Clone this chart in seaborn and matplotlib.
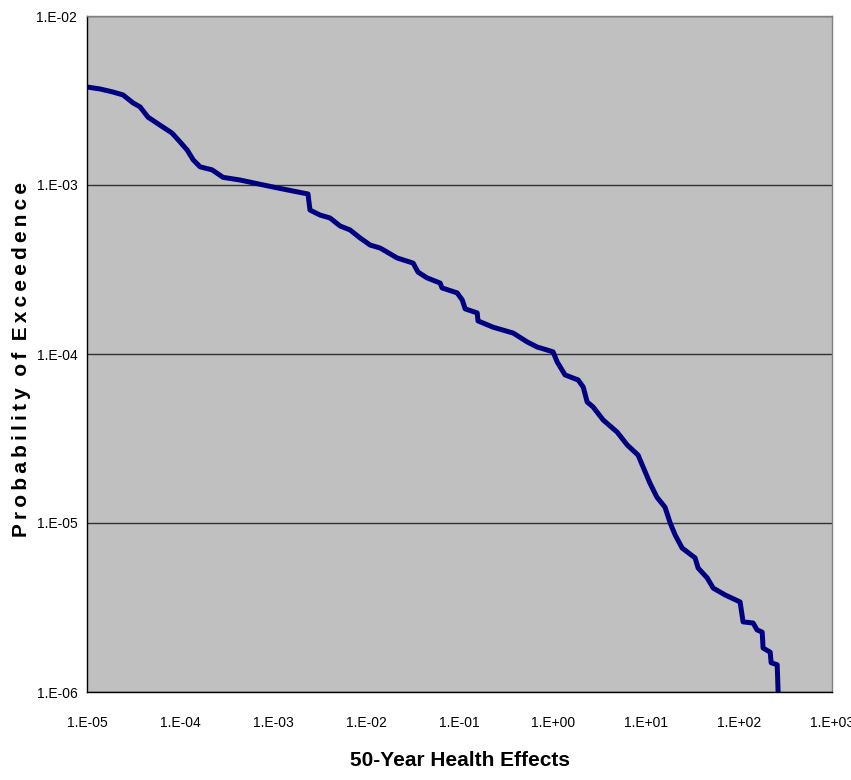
import matplotlib
matplotlib.use("Agg")
import matplotlib.pyplot as plt
import seaborn as sns
import pandas as pd
from matplotlib.ticker import FixedLocator, FixedFormatter, NullLocator

health_effects = [1.0e-5, 1.38e-5, 1.90e-5, 2.44e-5, 3.12e-5, 3.71e-5, 4.52e-5, 6.08e-5, 8.18e-5,
                  9.97e-5, 1.19e-4, 1.38e-4, 1.64e-4, 2.20e-4, 2.89e-4, 4.40e-4, 7.21e-4, 9.95e-4,
                  1.63e-3, 2.36e-3, 2.48e-3, 3.18e-3, 4.07e-3, 5.22e-3, 6.68e-3, 8.56e-3, 1.10e-2,
                  1.40e-2, 1.67e-2, 2.14e-2, 3.18e-2, 3.59e-2, 4.49e-2, 6.19e-2, 6.50e-2, 9.42e-2,
                  0.107, 0.115, 0.155, 0.158, 0.230, 0.377, 0.532, 0.682, 1.01, 1.12, 1.36, 1.88,
                  2.13, 2.35, 2.72, 3.49, 4.93, 6.31, 8.28, 9.38, 11.1, 13.2, 16.1, 18.3, 20.7,
                  24.6, 33.9, 36.5, 45.7, 53.0, 71.3, 103, 111, 142, 157, 178, 182, 217, 222, 258,
                  264]
prob_exceed = [3.80e-3, 3.70e-3, 3.55e-3, 3.41e-3, 3.06e-3, 2.90e-3, 2.52e-3, 2.26e-3, 2.03e-3,
               1.80e-3, 1.61e-3, 1.41e-3, 1.28e-3, 1.23e-3, 1.11e-3, 1.07e-3, 1.01e-3, 9.73e-4,
               9.21e-4, 8.85e-4, 7.11e-4, 6.64e-4, 6.38e-4, 5.72e-4, 5.42e-4, 4.86e-4, 4.41e-4,
               4.24e-4, 4.01e-4, 3.70e-4, 3.45e-4, 3.05e-4, 2.82e-4, 2.63e-4, 2.46e-4, 2.30e-4,
               2.09e-4, 1.85e-4, 1.75e-4, 1.57e-4, 1.44e-4, 1.33e-4, 1.18e-4, 1.10e-4, 1.03e-4,
               8.97e-5, 7.52e-5, 7.02e-5, 6.38e-5, 5.20e-5, 4.86e-5, 4.07e-5, 3.45e-5, 2.90e-5,
               2.52e-5, 2.14e-5, 1.72e-5, 1.42e-5, 1.24e-5, 1.00e-5, 8.49e-6, 7.11e-6, 6.21e-6,
               5.42e-6, 4.73e-6, 4.12e-6, 3.75e-6, 3.41e-6, 2.60e-6, 2.56e-6, 2.33e-6, 2.26e-6,
               1.82e-6, 1.72e-6, 1.49e-6, 1.45e-6, 9.86e-7]

x_ticks = [1e-5, 1e-4, 1e-3, 1e-2, 1e-1, 1e0, 1e1, 1e2, 1e3]
x_tick_labels = ["1.E-05", "1.E-04", "1.E-03", "1.E-02", "1.E-01", "1.E+00", "1.E+01", "1.E+02", "1.E+03"]
y_ticks = [1e-6, 1e-5, 1e-4, 1e-3, 1e-2]
y_tick_labels = ["1.E-06", "1.E-05", "1.E-04", "1.E-03", "1.E-02"]

df = pd.DataFrame({"effects": health_effects, "prob": prob_exceed})

sns.set_style("white", {"axes.facecolor": "#C0C0C0"})
fam = ["Liberation Sans Narrow", "Liberation Sans", "DejaVu Sans"]
plt.rcParams["font.family"] = fam
plt.rcParams["text.color"] = "black"
plt.rcParams["axes.labelcolor"] = "black"
plt.rcParams["xtick.color"] = "black"
plt.rcParams["ytick.color"] = "black"

fig = plt.figure(figsize=(8.51, 7.80), dpi=100)
ax = fig.add_axes([87/851, 1-692/780, (832-87)/851, (692-16)/780])
ax.set_facecolor("#C0C0C0")

sns.lineplot(data=df, x="effects", y="prob", ax=ax, color="#000080", linewidth=3.6,
             sort=False, estimator=None)

ax.set_xscale("log")
ax.set_yscale("log")
ax.set_xlim(1e-5, 1e3)
ax.set_ylim(1e-6, 1e-2)

ax.xaxis.set_major_locator(FixedLocator(x_ticks))
ax.xaxis.set_major_formatter(FixedFormatter(x_tick_labels))
ax.yaxis.set_major_locator(FixedLocator(y_ticks))
ax.yaxis.set_major_formatter(FixedFormatter(y_tick_labels))
ax.xaxis.set_minor_locator(NullLocator())
ax.yaxis.set_minor_locator(NullLocator())

ax.grid(axis="y", color="#303030", linewidth=1.0)
ax.grid(axis="x", visible=False)
ax.set_axisbelow(True)

ax.tick_params(axis="both", which="major", direction="out", length=5, width=1,
               color="#000000", labelcolor="#000000", labelsize=10)
ax.tick_params(axis="x", pad=12)
ax.tick_params(axis="y", pad=2)

for side in ["left", "bottom"]:
    ax.spines[side].set_color("#000000")
    ax.spines[side].set_linewidth(1.0)
for side in ["top", "right"]:
    ax.spines[side].set_color("#808080")
    ax.spines[side].set_linewidth(1.0)

ax.set_xlabel("50-Year Health Effects", fontsize=15, fontweight="bold", color="black")
ax.xaxis.set_label_coords(0.5007, -0.087)

thin = "\u2009"
ylabel_text = thin.join("Probability") + "  " + thin.join("of") + "  " + thin.join("Exceedence")
ax.set_ylabel(ylabel_text, fontsize=15, fontweight="bold", color="black",
              family=["Liberation Sans", "DejaVu Sans"])
ax.yaxis.set_label_coords(-0.0745, 0.4926)

fig.savefig("out.png", dpi=100, facecolor="white")
